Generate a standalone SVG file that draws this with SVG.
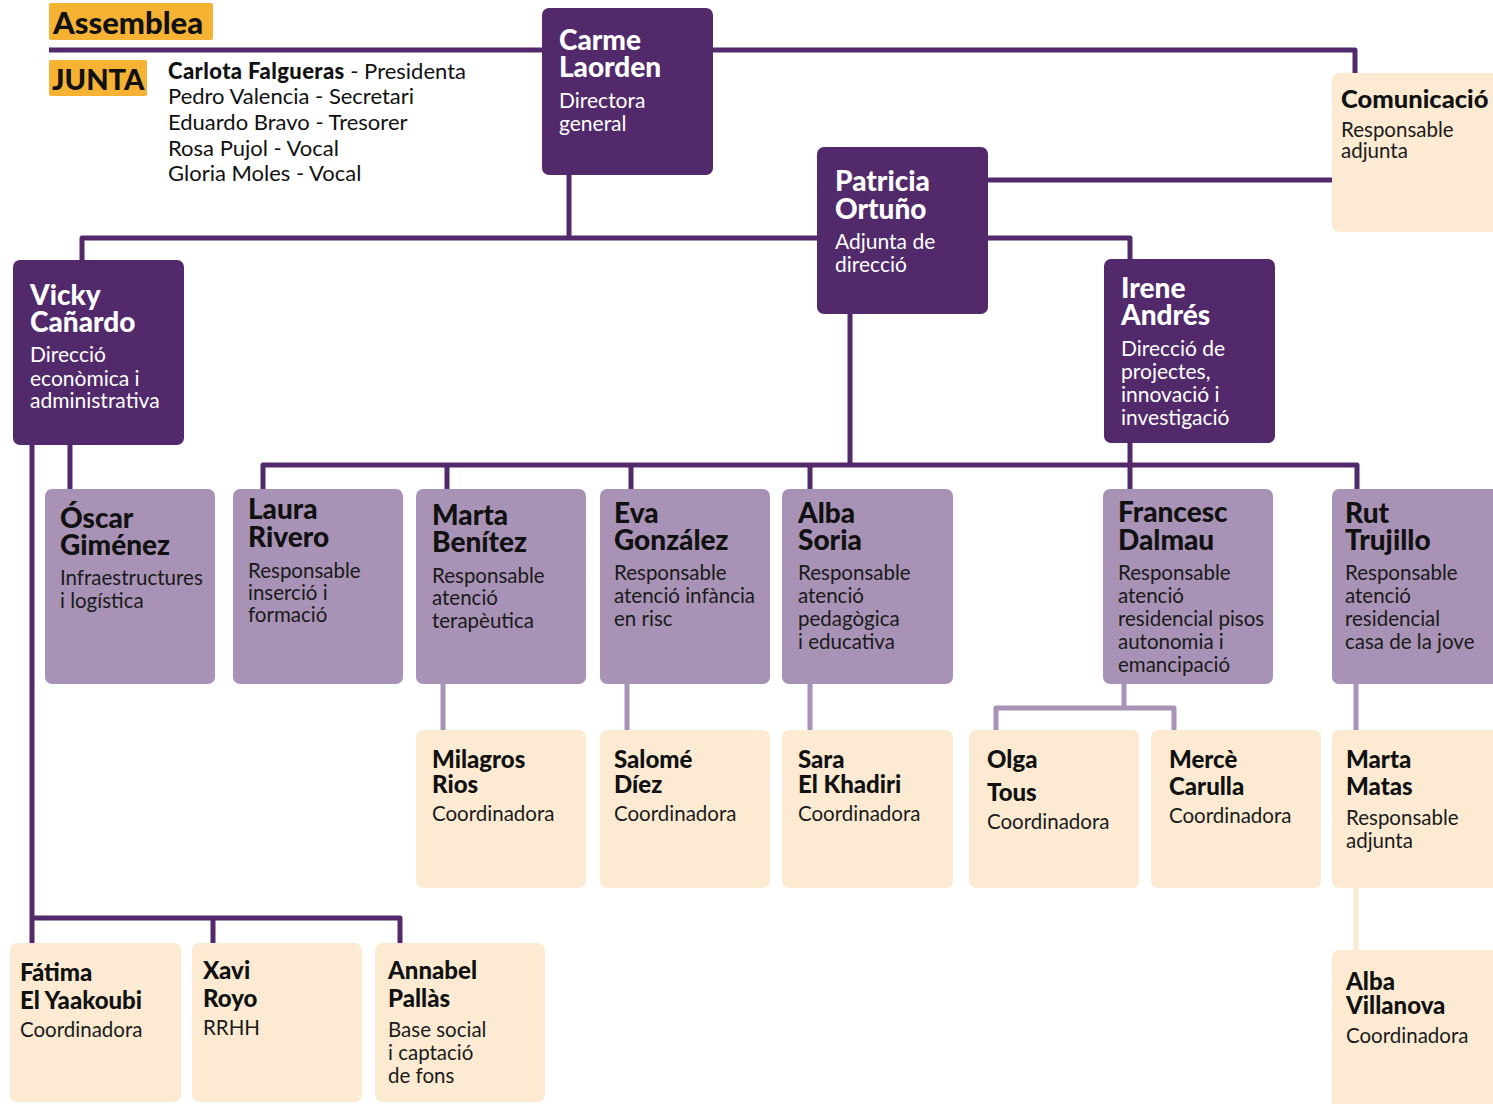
<svg xmlns="http://www.w3.org/2000/svg" width="1493" height="1104" viewBox="0 0 1493 1104">
<style>
text{font-family:Lato,"Open Sans","Liberation Sans",sans-serif;}
.dk{fill:#52296b;}
.lt{fill:#a892b5;}
.cr{fill:#fcebd2;}
.or{fill:#f6b233;}
.w{fill:#fff;}
.b{fill:#111;}
.n{font-weight:900;font-size:28px;}
.s{font-weight:900;font-size:24px;}
.r{font-size:21px;}
.rb{font-size:20.5px;fill:#1a1a1a;}
.c{fill:none;stroke-width:5;stroke-linejoin:round;}
.cd{stroke:#52296b;}
.cl{stroke:#a892b5;}
.cc{stroke:#fcebd2;}
.jt{fill:#111;font-size:22px;}
</style>
<rect width="1493" height="1104" fill="#fff"/>
<g id="connectors">
<path class="c cd" d="M49 50 H1355 V75"/>
<path class="c cd" d="M988 180 H1334"/>
<path class="c cd" d="M569 175 V238"/>
<path class="c cd" d="M82 262 V238 H1130 V261"/>
<path class="c cd" d="M850 314 V465"/>
<path class="c cd" d="M263 491 V465 H1357 V491"/>
<path class="c cd" d="M447 465 V491 M631 465 V491 M810 465 V491 M1130 443 V491"/>
<path class="c cd" d="M70 445 V491"/>
<path class="c cd" d="M32 445 V945 M32 918 H400 V945 M213 918 V945"/>
<path class="c cl" d="M443 684 V730 M627 684 V730 M810 684 V730 M1356 684 V730"/>
<path class="c cl" d="M1124 684 V708 M996 732 V708 H1174 V732"/>
<path class="c cc" d="M1356 888 V952"/>
</g>
<g id="assemblea">
<rect class="or" x="49" y="3" width="164" height="37" rx="2"/>
<text x="53" y="34" style="font-weight:900;font-size:31px;fill:#111">Assemblea</text>
</g>
<g id="junta">
<rect class="or" x="49" y="60" width="98" height="36" rx="2"/>
<text x="52" y="90" style="font-weight:900;font-size:29px;fill:#111">JUNTA</text>
<text class="jt"><tspan x="168" y="79"><tspan font-weight="900" letter-spacing="0.4">Carlota Falgueras</tspan> - Presidenta</tspan><tspan x="168" y="104">Pedro Valencia - Secretari</tspan><tspan x="168" y="130">Eduardo Bravo - Tresorer</tspan><tspan x="168" y="156">Rosa Pujol - Vocal</tspan><tspan x="168" y="181">Gloria Moles - Vocal</tspan></text>
</g>
<g id="carme">
<rect class="dk" x="542" y="8" width="171" height="167" rx="7"/>
<text class="w"><tspan class="n" x="559" y="50">Carme</tspan><tspan class="n" x="559" y="77">Laorden</tspan><tspan class="r" x="559" y="108">Directora</tspan><tspan class="r" x="559" y="131">general</tspan></text>
</g>
<g id="patricia">
<rect class="dk" x="817" y="147" width="171" height="167" rx="7"/>
<text class="w"><tspan class="n" x="835" y="191">Patricia</tspan><tspan class="n" x="835" y="219">Ortuño</tspan><tspan class="r" x="835" y="249">Adjunta de</tspan><tspan class="r" x="835" y="272">direcció</tspan></text>
</g>
<g id="comunicacio">
<rect class="cr" x="1332" y="73" width="175" height="159" rx="7"/>
<text class="b"><tspan x="1341" y="108" style="font-weight:900;font-size:25.5px">Comunicació</tspan><tspan class="rb" x="1341" y="137">Responsable</tspan><tspan class="rb" x="1341" y="158">adjunta</tspan></text>
</g>
<g id="vicky">
<rect class="dk" x="13" y="260" width="171" height="185" rx="7"/>
<text class="w"><tspan class="n" x="30" y="305">Vicky</tspan><tspan class="n" x="30" y="332">Cañardo</tspan><tspan class="r" x="30" y="362">Direcció</tspan><tspan class="r" x="30" y="386">econòmica i</tspan><tspan class="r" x="30" y="408">administrativa</tspan></text>
</g>
<g id="irene">
<rect class="dk" x="1104" y="259" width="171" height="184" rx="7"/>
<text class="w"><tspan class="n" x="1121" y="298">Irene</tspan><tspan class="n" x="1121" y="325">Andrés</tspan><tspan class="r" x="1121" y="356">Direcció de</tspan><tspan class="r" x="1121" y="379">projectes,</tspan><tspan class="r" x="1121" y="402">innovació i</tspan><tspan class="r" x="1121" y="425">investigació</tspan></text>
</g>
<g id="oscar">
<rect class="lt" x="45" y="489" width="170" height="195" rx="7"/>
<text class="b"><tspan class="n" x="60" y="528">Óscar</tspan><tspan class="n" x="60" y="555">Giménez</tspan><tspan class="rb" x="60" y="585">Infraestructures</tspan><tspan class="rb" x="60" y="608">i logística</tspan></text>
</g>
<g id="laura">
<rect class="lt" x="233" y="489" width="170" height="195" rx="7"/>
<text class="b"><tspan class="n" x="248" y="519">Laura</tspan><tspan class="n" x="248" y="547">Rivero</tspan><tspan class="rb" x="248" y="578">Responsable</tspan><tspan class="rb" x="248" y="600">inserció i</tspan><tspan class="rb" x="248" y="622">formació</tspan></text>
</g>
<g id="marta-benitez">
<rect class="lt" x="416" y="489" width="170" height="195" rx="7"/>
<text class="b"><tspan class="n" x="432" y="525">Marta</tspan><tspan class="n" x="432" y="552">Benítez</tspan><tspan class="rb" x="432" y="583">Responsable</tspan><tspan class="rb" x="432" y="605">atenció</tspan><tspan class="rb" x="432" y="628">terapèutica</tspan></text>
</g>
<g id="eva">
<rect class="lt" x="600" y="489" width="170" height="195" rx="7"/>
<text class="b"><tspan class="n" x="614" y="523">Eva</tspan><tspan class="n" x="614" y="550">González</tspan><tspan class="rb" x="614" y="580">Responsable</tspan><tspan class="rb" x="614" y="603">atenció infància</tspan><tspan class="rb" x="614" y="626">en risc</tspan></text>
</g>
<g id="alba-soria">
<rect class="lt" x="782" y="489" width="171" height="195" rx="7"/>
<text class="b"><tspan class="n" x="798" y="523">Alba</tspan><tspan class="n" x="798" y="550">Soria</tspan><tspan class="rb" x="798" y="580">Responsable</tspan><tspan class="rb" x="798" y="603">atenció</tspan><tspan class="rb" x="798" y="626">pedagògica</tspan><tspan class="rb" x="798" y="649">i educativa</tspan></text>
</g>
<g id="francesc">
<rect class="lt" x="1103" y="489" width="170" height="195" rx="7"/>
<text class="b"><tspan class="n" x="1118" y="522">Francesc</tspan><tspan class="n" x="1118" y="550">Dalmau</tspan><tspan class="rb" x="1118" y="580">Responsable</tspan><tspan class="rb" x="1118" y="603">atenció</tspan><tspan class="rb" x="1118" y="626">residencial pisos</tspan><tspan class="rb" x="1118" y="649">autonomia i</tspan><tspan class="rb" x="1118" y="672">emancipació</tspan></text>
</g>
<g id="rut">
<rect class="lt" x="1332" y="489" width="175" height="195" rx="7"/>
<text class="b"><tspan class="n" x="1345" y="523">Rut</tspan><tspan class="n" x="1345" y="550">Trujillo</tspan><tspan class="rb" x="1345" y="580">Responsable</tspan><tspan class="rb" x="1345" y="603">atenció</tspan><tspan class="rb" x="1345" y="626">residencial</tspan><tspan class="rb" x="1345" y="649">casa de la jove</tspan></text>
</g>
<g id="milagros">
<rect class="cr" x="416" y="730" width="170" height="158" rx="7"/>
<text class="b"><tspan class="s" x="432" y="768">Milagros</tspan><tspan class="s" x="432" y="793">Rios</tspan><tspan class="rb" x="432" y="821">Coordinadora</tspan></text>
</g>
<g id="salome">
<rect class="cr" x="600" y="730" width="170" height="158" rx="7"/>
<text class="b"><tspan class="s" x="614" y="768">Salomé</tspan><tspan class="s" x="614" y="793">Díez</tspan><tspan class="rb" x="614" y="821">Coordinadora</tspan></text>
</g>
<g id="sara">
<rect class="cr" x="782" y="730" width="171" height="158" rx="7"/>
<text class="b"><tspan class="s" x="798" y="768">Sara</tspan><tspan class="s" x="798" y="793">El Khadiri</tspan><tspan class="rb" x="798" y="821">Coordinadora</tspan></text>
</g>
<g id="olga">
<rect class="cr" x="969" y="730" width="170" height="158" rx="7"/>
<text class="b"><tspan class="s" x="987" y="768">Olga</tspan><tspan class="s" x="987" y="801">Tous</tspan><tspan class="rb" x="987" y="829">Coordinadora</tspan></text>
</g>
<g id="merce">
<rect class="cr" x="1151" y="730" width="170" height="158" rx="7"/>
<text class="b"><tspan class="s" x="1169" y="768">Mercè</tspan><tspan class="s" x="1169" y="795">Carulla</tspan><tspan class="rb" x="1169" y="823">Coordinadora</tspan></text>
</g>
<g id="marta-matas">
<rect class="cr" x="1332" y="730" width="175" height="158" rx="7"/>
<text class="b"><tspan class="s" x="1346" y="768">Marta</tspan><tspan class="s" x="1346" y="795">Matas</tspan><tspan class="rb" x="1346" y="825">Responsable</tspan><tspan class="rb" x="1346" y="848">adjunta</tspan></text>
</g>
<g id="fatima">
<rect class="cr" x="10" y="943" width="171" height="159" rx="7"/>
<text class="b"><tspan class="s" x="20" y="981">Fátima</tspan><tspan class="s" x="20" y="1009">El Yaakoubi</tspan><tspan class="rb" x="20" y="1037">Coordinadora</tspan></text>
</g>
<g id="xavi">
<rect class="cr" x="192" y="943" width="170" height="159" rx="7"/>
<text class="b"><tspan class="s" x="203" y="979">Xavi</tspan><tspan class="s" x="203" y="1007">Royo</tspan><tspan class="rb" x="203" y="1035">RRHH</tspan></text>
</g>
<g id="annabel">
<rect class="cr" x="375" y="943" width="170" height="159" rx="7"/>
<text class="b"><tspan class="s" x="388" y="979">Annabel</tspan><tspan class="s" x="388" y="1007">Pallàs</tspan><tspan class="rb" x="388" y="1037">Base social</tspan><tspan class="rb" x="388" y="1060">i captació</tspan><tspan class="rb" x="388" y="1083">de fons</tspan></text>
</g>
<g id="alba-villanova">
<rect class="cr" x="1332" y="950" width="175" height="165" rx="7"/>
<text class="b"><tspan class="s" x="1346" y="990">Alba</tspan><tspan class="s" x="1346" y="1014">Villanova</tspan><tspan class="rb" x="1346" y="1043">Coordinadora</tspan></text>
</g>
</svg>
